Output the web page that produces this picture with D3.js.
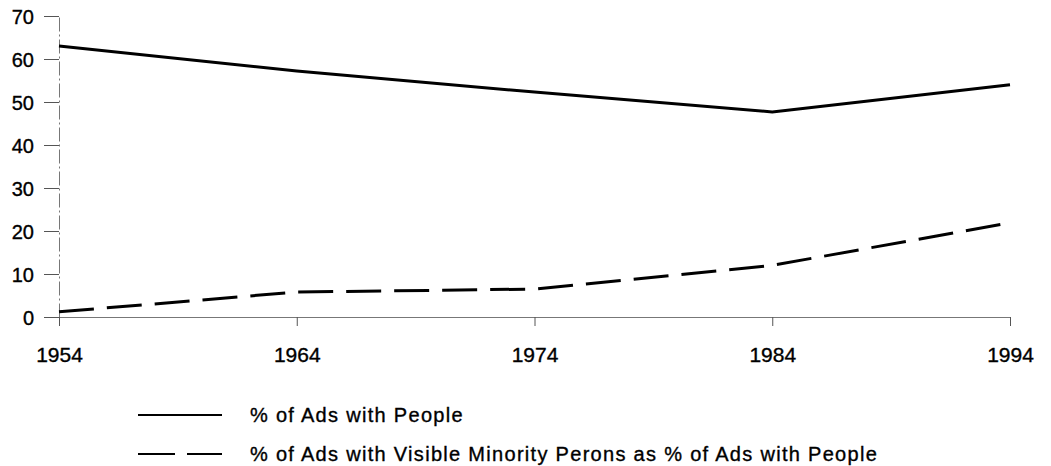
<!DOCTYPE html>
<html>
<head>
<meta charset="utf-8">
<script src="https://cdn.jsdelivr.net/npm/d3@7"></script>
<style>
  body { margin: 0; background: #fff; }
  svg text { font-family: "Liberation Sans", Arial, sans-serif; fill: #000; stroke: #000; stroke-width: 0.35px; }
</style>
</head>
<body>
<svg id="chart" width="1051" height="466"></svg>
<script>
var years = [1954, 1964, 1974, 1984, 1994];
var adsWithPeople = [63, 57.2, 52.3, 47.7, 54];
var minorityShare = [1.2, 5.8, 6.5, 12, 21.9];
var yTicks = [0, 10, 20, 30, 40, 50, 60, 70];
var seriesNames = [
  "% of Ads with People",
  "% of Ads with Visible Minority Perons as % of Ads with People"
];

var svg = d3.select("#chart");

var x = d3.scaleLinear().domain([1954, 1994]).range([59, 1010]);
var y = d3.scaleLinear().domain([0, 70]).range([317, 16]);

// y axis
var yAxis = svg.append("g")
  .attr("transform", "translate(" + x(1954) + ",0)")
  .call(d3.axisLeft(y).tickValues(yTicks).tickSize(15).tickSizeOuter(0).tickPadding(10));
yAxis.select(".domain").attr("stroke", "#777").attr("stroke-dasharray", "14,3,2,3");
yAxis.selectAll(".tick line").attr("stroke", "#555");
yAxis.selectAll(".tick text")
  .style("font-size", "20px")
  .attr("dy", "0.35em");

// x axis
var xAxis = svg.append("g")
  .attr("transform", "translate(0," + y(0) + ")")
  .call(d3.axisBottom(x).tickValues(years).tickFormat(d3.format("d")).tickSize(9).tickSizeOuter(0).tickPadding(21));
xAxis.select(".domain").attr("stroke", "#777");
xAxis.selectAll(".tick line").attr("stroke", "#555");
xAxis.selectAll(".tick text").style("font-size", "21px");

var line = d3.line()
  .x(function(d, i) { return x(years[i]); })
  .y(function(d) { return y(d); });

svg.append("path")
  .datum(adsWithPeople)
  .attr("d", line)
  .attr("fill", "none")
  .attr("stroke", "#000")
  .attr("stroke-width", 3);

svg.append("path")
  .datum(minorityShare)
  .attr("d", line)
  .attr("fill", "none")
  .attr("stroke", "#000")
  .attr("stroke-width", 3)
  .attr("stroke-dasharray", "35,13");

// legend
var legend = svg.append("g");
var rows = legend.selectAll("g")
  .data(seriesNames)
  .enter()
  .append("g")
  .attr("transform", function(d, i) { return "translate(0," + (415 + i * 39) + ")"; });

rows.append("line")
  .attr("x1", 138).attr("x2", 222)
  .attr("stroke", "#000")
  .attr("stroke-width", 2)
  .attr("stroke-dasharray", function(d, i) { return i === 1 ? "37,12" : null; });

rows.append("text")
  .attr("x", 250)
  .attr("dy", "0.35em")
  .style("font-size", "20px")
  .style("letter-spacing", "1.3px")
  .text(function(d) { return d; });
</script>
</body>
</html>
